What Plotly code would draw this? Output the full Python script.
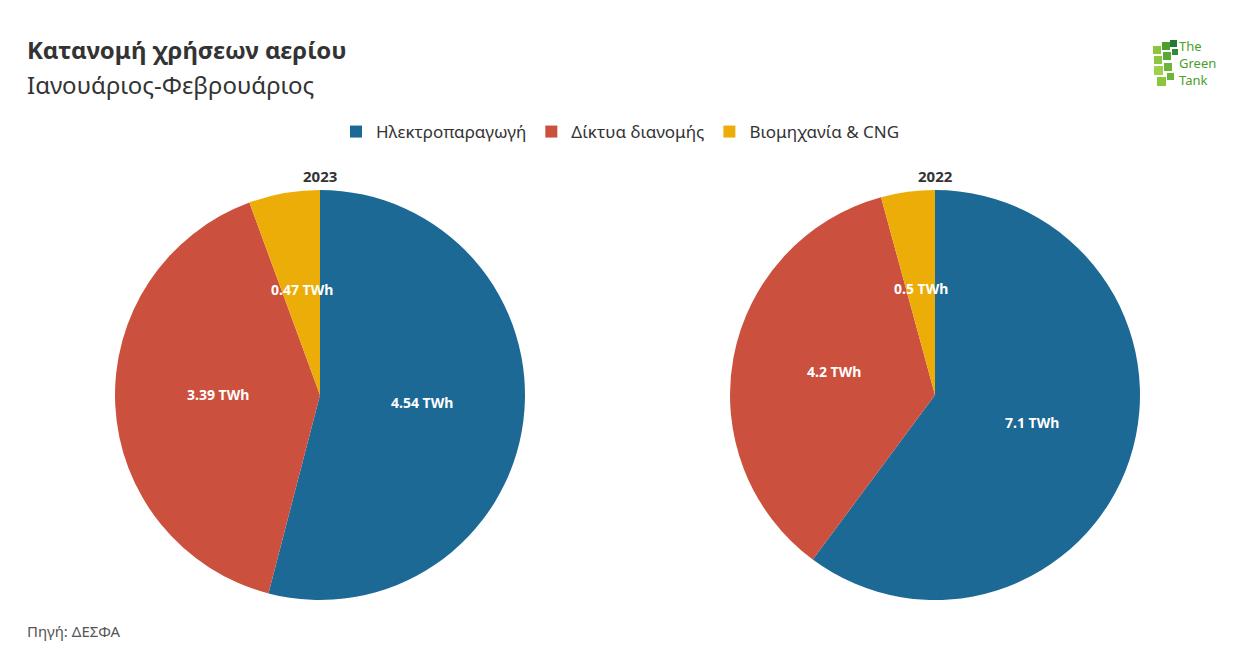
import math
import plotly.graph_objects as go

labels = ["Ηλεκτροπαραγωγή", "Δίκτυα διανομής", "Βιομηχανία & CNG"]
values_2023 = [4.54, 3.39, 0.47]
values_2022 = [7.1, 4.2, 0.5]
years = ["2023", "2022"]
colors = ["#1D6996", "#CC503E", "#EDAD08"]

W, H = 1241, 663
FONT = "Noto Sans"
R = 205

def dom(cx, cy, r):
    return dict(x=[(cx - r) / W, (cx + r) / W], y=[(H - cy - r) / H, (H - cy + r) / H])

fig = go.Figure()
for vals, year, (cx, cy) in [(values_2023, years[0], (320, 395)), (values_2022, years[1], (935, 395))]:
    fig.add_trace(go.Pie(
        labels=labels, values=vals, sort=False, direction="clockwise", rotation=0,
        marker=dict(colors=colors, line=dict(width=0)),
        textinfo="none",
        domain=dom(cx, cy, R), name=year, showlegend=(year == years[0]),
        hoverinfo="label+value",
    ))
    # data labels at half radius on each slice bisector (computed from values)
    total = sum(vals)
    cum = 0.0
    for v in vals:
        ang = (cum + v / 2) / total * 2 * math.pi
        cum += v
        lx = cx + 0.5 * R * math.sin(ang)
        ly = cy - 0.5 * R * math.cos(ang) - 5
        fig.add_annotation(text="<b>%s TWh</b>" % v, x=lx / W, y=(H - ly) / H, xref="paper", yref="paper",
                           showarrow=False, xanchor="center", yanchor="middle",
                           font=dict(family=FONT, size=14, color="white"))
    fig.add_annotation(text="<b>" + year + "</b>", x=cx / W, y=(H - 176) / H, xref="paper", yref="paper",
                       showarrow=False, font=dict(family=FONT, size=15, color="#333333"),
                       xanchor="center", yanchor="middle")

fig.add_annotation(text="<b>Κατανομή χρήσεων αερίου</b>", x=25 / W, y=(H - 50) / H, xref="paper", yref="paper",
                   showarrow=False, xanchor="left", yanchor="middle",
                   font=dict(family=FONT, size=24, color="#333333"))
fig.add_annotation(text="Ιανουάριος-Φεβρουάριος", x=25 / W, y=(H - 84) / H, xref="paper", yref="paper",
                   showarrow=False, xanchor="left", yanchor="middle",
                   font=dict(family=FONT, size=24, color="#333333"))
fig.add_annotation(text="Πηγή: ΔΕΣΦΑ", x=25 / W, y=(H - 631) / H, xref="paper", yref="paper",
                   showarrow=False, xanchor="left", yanchor="middle",
                   font=dict(family=FONT, size=15, color="#555555"))

# logo approximation
fig.add_annotation(text="The<br>Green<br>Tank", x=1177 / W, y=(H - 63) / H, xref="paper", yref="paper",
                   showarrow=False, xanchor="left", yanchor="middle", align="left",
                   font=dict(family=FONT, size=13, color="#4a9e2c"))
blocks = [(1170, 40, 7, "#1f7a3a"), (1162, 42, 8, "#4e9e2c"), (1153, 46, 8, "#8cc63f"),
          (1172, 49, 6, "#2e8a36"), (1163, 52, 8, "#5aa832"), (1154, 56, 8, "#8cc63f"),
          (1164, 63, 8, "#6fb43a"), (1154, 66, 9, "#9fd04b"),
          (1167, 73, 7, "#6fb43a"), (1157, 77, 9, "#8cc63f")]
for bx, by, s, c in blocks:
    fig.add_shape(type="rect", xref="paper", yref="paper",
                  x0=bx / W, x1=(bx + s) / W, y0=(H - by - s) / H, y1=(H - by) / H,
                  fillcolor=c, line=dict(width=0))

fig.update_layout(
    width=W, height=H, margin=dict(l=0, r=0, t=0, b=0),
    paper_bgcolor="white", plot_bgcolor="white",
    font=dict(family=FONT, color="#333333"),
    legend=dict(orientation="h", x=0.5, xanchor="center", y=(H - 132) / H, yanchor="middle",
                font=dict(family=FONT, size=17, color="#333333"), traceorder="normal",
                itemwidth=30),
)

fig.write_html("out.html")
